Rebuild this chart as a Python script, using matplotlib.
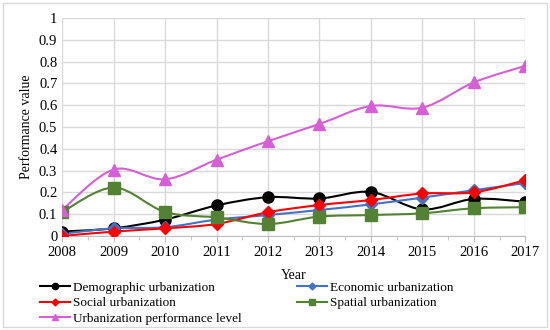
import matplotlib
matplotlib.use("Agg")
import matplotlib.pyplot as plt
from matplotlib.path import Path
from matplotlib.patches import PathPatch, Rectangle
from matplotlib.lines import Line2D
import numpy as np

plt.rcParams['font.family'] = ['Liberation Serif', 'DejaVu Serif']
plt.rcParams['font.size'] = 10

# data
years = [2008, 2009, 2010, 2011, 2012, 2013, 2014, 2015, 2016, 2017]
demographic = [0.02, 0.035, 0.075, 0.14, 0.178, 0.172, 0.202, 0.122, 0.17, 0.157]
economic = [0.01, 0.035, 0.04, 0.075, 0.096, 0.119, 0.145, 0.176, 0.21, 0.243]
social = [0.0, 0.02, 0.035, 0.055, 0.109, 0.142, 0.165, 0.195, 0.2, 0.256]
spatial = [0.11, 0.222, 0.11, 0.085, 0.055, 0.089, 0.096, 0.104, 0.127, 0.132]
performance = [0.12, 0.305, 0.26, 0.35, 0.435, 0.514, 0.597, 0.589, 0.705, 0.781]

series = [
    ("Demographic urbanization", demographic, "black", "o", 8, 4.5),
    ("Economic urbanization", economic, "#4472C4", "D", 6, 3.5),
    ("Social urbanization", social, "red", "D", 6, 3.5),
    ("Spatial urbanization", spatial, "#548235", "s", 8, 4.5),
    ("Urbanization performance level", performance, "#D65FD6", "^", 9, 5),
]


def smooth_path(x, y):
    # Excel-style smoothed line as cubic bezier segments through the points
    x = np.asarray(x, float)
    y = np.asarray(y, float)
    verts = [(x[0], y[0])]
    codes = [Path.MOVETO]
    n = len(x)
    for i in range(n - 1):
        i0 = max(i - 1, 0)
        i3 = min(i + 2, n - 1)
        c1 = (x[i] + (x[i + 1] - x[i0]) / 6, y[i] + (y[i + 1] - y[i0]) / 6)
        c2 = (x[i + 1] - (x[i3] - x[i]) / 6, y[i + 1] - (y[i3] - y[i]) / 6)
        verts += [c1, c2, (x[i + 1], y[i + 1])]
        codes += [Path.CURVE4] * 3
    return Path(verts, codes)


fig = plt.figure(figsize=(5.5, 3.3), dpi=100)
ax = fig.add_axes([0.113, 0.285, 0.842, 0.66])

handles = []
for name, vals, col, mk, ms, lms in series:
    ax.add_patch(PathPatch(smooth_path(years, vals), facecolor="none",
                           edgecolor=col, lw=1.5, zorder=3))
    ax.plot(years, vals, ls="none", marker=mk, color=col, ms=ms, zorder=4)
    handles.append(Line2D([], [], color=col, lw=1.5, marker=mk, ms=lms))

ax.set_xlim(2008, 2017)
ax.set_ylim(0, 1)
ax.set_xticks(years)
ax.set_yticks(np.arange(0, 1.01, 0.1))
ax.set_yticklabels(["0"] + ["%.1f" % v for v in np.arange(0.1, 0.95, 0.1)] + ["1"])
ax.set_xticks(np.arange(2008, 2017.01, 0.5), minor=True)
ax.grid(True, which="major", color="#d9d9d9", lw=1)
ax.set_axisbelow(True)
for s in ["top", "right", "left"]:
    ax.spines[s].set_visible(False)
ax.spines["bottom"].set_color("#bfbfbf")
ax.tick_params(axis="y", length=0, labelsize=10.5)
ax.tick_params(axis="x", which="major", length=4, color="#bfbfbf", labelsize=10.5)
ax.tick_params(axis="x", which="minor", length=3, color="#bfbfbf")
ax.set_xlabel("Year", labelpad=7)
ax.set_ylabel("Performance value", labelpad=4)

# legend is filled row by row in the reference
order = [0, 2, 4, 1, 3]
fig.legend([handles[i] for i in order], [series[i][0] for i in order],
           ncol=2, loc="lower left", bbox_to_anchor=(0.058, -0.008),
           frameon=False, handlelength=2.3, handletextpad=0.2,
           columnspacing=4.2, labelspacing=0.25, borderpad=0.1,
           fontsize=9.5)

fig.patches.append(Rectangle((0.005, 0.008), 0.99, 0.984, transform=fig.transFigure,
                             fill=False, edgecolor="#d9d9d9", lw=1))

fig.savefig("out.png", dpi=100)
